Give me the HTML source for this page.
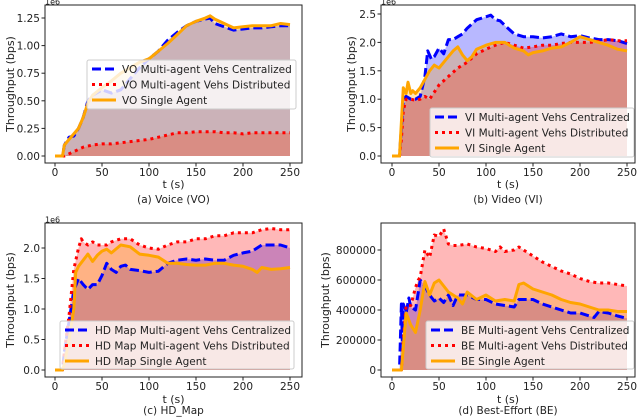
<!DOCTYPE html>
<html><head><meta charset="utf-8"><style>
body{margin:0;background:#fff;}
svg{display:block;font-family:"DejaVu Sans","Liberation Sans",sans-serif;}
</style></head><body>
<svg id="fig" width="640" height="420" viewBox="0 0 640 420"></svg>
<script>
// ---- Panel (a) Voice, units 1e6 ----
const voCenT=[0,5,8,10,15,20,25,30,35,40,50,60,70,80,90,100,110,120,130,140,150,160,165,170,180,190,200,210,220,230,240,250];
const voCenV=[0,0,0,0.1,0.17,0.18,0.25,0.35,0.5,0.55,0.6,0.57,0.6,0.7,0.8,0.88,0.95,1.05,1.12,1.18,1.22,1.24,1.25,1.2,1.17,1.14,1.15,1.16,1.16,1.17,1.18,1.18];
const voDisT=[0,8,10,20,30,40,50,60,70,80,90,100,110,120,130,140,150,160,170,180,190,200,210,220,230,240,250];
const voDisV=[0,0,0,0.04,0.08,0.1,0.11,0.11,0.12,0.13,0.14,0.15,0.17,0.19,0.21,0.21,0.22,0.22,0.22,0.21,0.21,0.2,0.21,0.21,0.21,0.21,0.21];
const voSinT=[0,5,8,10,15,20,25,30,35,40,50,60,70,80,90,100,110,120,130,140,150,160,165,170,180,190,200,210,220,230,240,250];
const voSinV=[0,0,0,0.1,0.15,0.2,0.25,0.35,0.48,0.55,0.62,0.68,0.75,0.8,0.85,0.88,0.95,1.02,1.1,1.18,1.22,1.25,1.27,1.24,1.2,1.16,1.17,1.18,1.18,1.18,1.2,1.19];
// ---- Panel (b) Video, units 1e6 ----
const viCenT=[0,8,10,12,15,20,25,30,35,38,42,45,50,55,60,65,70,75,80,90,100,105,110,115,120,130,140,150,160,170,180,190,200,210,220,230,240,250];
const viCenV=[0,0,0.5,1.0,1.05,1.0,1.0,1.05,1.4,1.85,1.7,1.75,1.9,1.8,2.05,2.05,2.1,2.15,2.25,2.4,2.45,2.48,2.4,2.38,2.3,2.15,2.1,2.1,2.08,2.1,2.15,2.1,2.12,2.08,2.05,2.05,2.03,1.98];
const viDisT=[0,8,10,12,15,20,25,30,35,40,50,60,70,80,90,100,110,120,130,140,150,160,170,180,190,200,210,220,230,240,250];
const viDisV=[0,0,0.3,0.8,1.0,1.0,0.98,1.0,1.05,1.0,1.25,1.4,1.55,1.65,1.8,1.88,1.95,2.0,1.95,1.9,1.92,1.95,1.95,1.98,2.0,2.0,2.0,2.02,2.05,2.03,2.03];
const viSinT=[0,8,10,12,15,17,20,22,25,30,35,40,45,50,55,60,65,70,75,80,85,90,100,110,120,130,140,145,150,160,170,180,190,200,210,220,230,240,250];
const viSinV=[0,0,0.6,1.2,1.1,1.3,1.1,1.15,1.1,1.2,1.35,1.5,1.6,1.55,1.65,1.75,1.85,1.92,1.78,1.68,1.75,1.88,1.95,2.0,2.0,1.9,1.85,1.78,1.82,1.85,1.9,1.92,2.0,2.1,2.05,2.0,1.95,1.88,1.85];
// ---- Panel (c) HD Map, units 1e6 ----
const hdCenT=[0,8,10,15,20,25,30,35,40,45,50,55,60,65,70,75,80,90,100,110,120,130,140,150,160,170,180,190,200,210,220,230,240,250];
const hdCenV=[0,0,0.3,0.8,1.3,1.5,1.4,1.32,1.4,1.4,1.55,1.75,1.65,1.6,1.7,1.72,1.65,1.63,1.6,1.62,1.75,1.8,1.82,1.8,1.82,1.8,1.8,1.88,1.92,1.95,2.05,2.05,2.05,2.0];
const hdDisT=[0,8,10,15,20,25,28,30,35,40,45,50,55,60,70,80,90,100,110,120,130,140,150,160,170,180,190,200,210,220,230,240,250];
const hdDisV=[0,0,0.3,0.9,1.65,2.0,2.15,2.1,2.05,2.1,2.05,2.05,2.05,2.1,2.15,2.15,2.05,2.0,1.98,2.05,2.1,2.1,2.15,2.15,2.2,2.2,2.25,2.25,2.25,2.3,2.32,2.3,2.3];
const hdSinT=[0,8,10,15,20,22,25,30,35,40,45,50,55,60,70,80,90,100,110,120,130,140,150,160,170,180,190,200,210,215,220,230,240,250];
const hdSinV=[0,0,0.1,0.5,1.0,1.6,1.7,1.8,1.9,1.78,1.88,1.95,1.98,1.92,2.05,2.02,1.9,1.88,1.85,1.75,1.75,1.73,1.72,1.72,1.75,1.75,1.72,1.7,1.65,1.6,1.68,1.65,1.66,1.68];
// ---- Panel (d) Best-Effort, bps ----
const beCenT=[0,8,10,11,12,15,18,20,25,30,35,40,45,50,55,60,65,70,80,90,100,110,120,130,135,140,150,160,170,180,190,200,210,215,220,230,240,250];
const beCenV=[0,0,440000,200000,440000,380000,480000,420000,400000,600000,560000,500000,460000,480000,450000,500000,430000,500000,500000,470000,470000,440000,430000,420000,470000,470000,470000,440000,420000,400000,380000,380000,360000,350000,390000,380000,360000,345000];
const beDisT=[0,8,10,12,15,20,25,28,30,35,40,45,50,55,60,65,70,80,90,100,110,115,120,130,135,140,150,160,170,180,190,200,210,220,230,240,250];
const beDisV=[0,0,0,200000,430000,430000,550000,600000,620000,800000,750000,900000,890000,940000,840000,830000,830000,840000,820000,810000,790000,820000,790000,800000,820000,800000,760000,720000,690000,660000,640000,610000,590000,580000,580000,570000,560000];
const beSinT=[0,8,10,12,15,20,25,30,35,40,45,50,60,70,75,80,90,100,110,120,130,135,140,150,160,170,180,190,200,210,220,230,240,250];
const beSinV=[0,0,0,150000,380000,300000,250000,400000,590000,500000,580000,600000,520000,480000,440000,520000,470000,500000,460000,470000,460000,570000,580000,540000,520000,500000,470000,450000,440000,420000,400000,400000,390000,390000];

const xTicks=[0,50,100,150,200,250];
const voYTicks=[0,0.25,0.5,0.75,1.0,1.25], voYLabels=["0.00","0.25","0.50","0.75","1.00","1.25"];
const viYTicks=[0,0.5,1.0,1.5,2.0,2.5], viYLabels=["0.0","0.5","1.0","1.5","2.0","2.5"];
const hdYTicks=[0,0.5,1.0,1.5,2.0], hdYLabels=["0.0","0.5","1.0","1.5","2.0"];
const beYTicks=[0,200000,400000,600000,800000], beYLabels=["0","200000","400000","600000","800000"];

const NS="http://www.w3.org/2000/svg";
const fig=document.getElementById('fig');
function mk(tag,attrs,parent){const e=document.createElementNS(NS,tag);for(const k in attrs)e.setAttribute(k,attrs[k]);(parent||fig).appendChild(e);return e;}

const panels=[
 {id:'vo',pre:'VO',cap:'(a) Voice (VO)',box:[45,5,302,163],x0:55,x1:290,y0:156,yTop:18,yTopVal:1.25,yt:voYTicks,yl:voYLabels,exp:true,ylx:14,
  c:[voCenT,voCenV],d:[voDisT,voDisV],s:[voSinT,voSinV],leg:[87,60,296,109],xl:188,capY:203},
 {id:'vi',pre:'VI',cap:'(b) Video (VI)',box:[381,5,635,163],x0:392,x1:627,y0:156,yTop:14,yTopVal:2.5,yt:viYTicks,yl:viYLabels,exp:true,ylx:355,
  c:[viCenT,viCenV],d:[viDisT,viDisV],s:[viSinT,viSinV],leg:[430,108,634,157],xl:188,capY:203},
 {id:'hd',pre:'HD Map',cap:'(c) HD_Map',box:[45,223,302,377],x0:55,x1:290,y0:370,yTop:248,yTopVal:2.0,yt:hdYTicks,yl:hdYLabels,exp:true,ylx:14,
  c:[hdCenT,hdCenV],d:[hdDisT,hdDisV],s:[hdSinT,hdSinV],leg:[60,321,294,369],xl:403,capY:414},
 {id:'be',pre:'BE',cap:'(d) Best-Effort (BE)',box:[381,223,635,377],x0:392,x1:627,y0:370,yTop:250,yTopVal:800000,yt:beYTicks,yl:beYLabels,exp:false,ylx:329,
  c:[beCenT,beCenV],d:[beDisT,beDisV],s:[beSinT,beSinV],leg:[426,321,634,369],xl:403,capY:414}
];

panels.forEach(p=>{
 const g=mk('g',{});
 
 
 const X=t=>p.x0+(p.x1-p.x0)*t/250;
 const Y=v=>p.y0-(p.y0-p.yTop)*v/p.yTopVal;
 const [bx0,by0,bx1,by1]=p.box;
 const series=[
  {k:'centralized',d:p.c,col:'#0000ff',dash:'9,4',lab:p.pre+' Multi-agent Vehs Centralized'},
  {k:'distributed',d:p.d,col:'#ff0000',dash:'3,4',lab:p.pre+' Multi-agent Vehs Distributed'},
  {k:'single',d:p.s,col:'#ffa500',dash:'',lab:p.pre+' Single Agent'}];
 series.forEach(s=>{
  const [T,V]=s.d;
  let path='M'+X(T[0])+','+Y(0);
  T.forEach((t,i)=>{path+='L'+X(t).toFixed(1)+','+Y(V[i]).toFixed(1);});
  path+='L'+X(T[T.length-1])+','+Y(0)+'Z';
  const f=mk('path',{d:path,fill:s.col,'fill-opacity':0.28,stroke:'none'},g);
  
  
 });
 series.forEach(s=>{
  const [T,V]=s.d;
  const pts=T.map((t,i)=>X(t).toFixed(1)+','+Y(V[i]).toFixed(1)).join(' ');
  const l=mk('polyline',{points:pts,fill:'none',stroke:s.col,'stroke-width':3,'stroke-dasharray':s.dash,'stroke-linejoin':'round'},g);
  
  
 });
 const fr=mk('rect',{x:bx0,y:by0,width:bx1-bx0,height:by1-by0,fill:'none',stroke:'#222','stroke-width':1},g);
 
 
 xTicks.forEach(t=>{
  mk('line',{x1:X(t),x2:X(t),y1:by1,y2:by1+3.5,stroke:'#222'},g);
  const tx=mk('text',{x:X(t),y:by1+13,'font-size':10.5,'text-anchor':'middle',fill:'#222'},g);
  tx.textContent=t;
  
  
 });
 p.yt.forEach((v,i)=>{
  mk('line',{x1:bx0-3.5,x2:bx0,y1:Y(v),y2:Y(v),stroke:'#222'},g);
  const tx=mk('text',{x:bx0-5,y:Y(v)+4,'font-size':10.5,'text-anchor':'end',fill:'#222'},g);
  tx.textContent=p.yl[i];
  
  
 });
 if(p.exp){const e=mk('text',{x:bx0,y:by0-0.5,'font-size':8,fill:'#222'},g);e.textContent='1e6';
  
  }
 const xl=mk('text',{x:(bx0+bx1)/2,y:p.xl,'font-size':11,'text-anchor':'middle',fill:'#222'},g);xl.textContent='t (s)';
 
 
 const cy=(by0+by1)/2;
 const yl=mk('text',{x:p.ylx,y:cy,'font-size':11,'text-anchor':'middle',fill:'#222',transform:'rotate(-90 '+p.ylx+' '+cy+')'},g);yl.textContent='Throughput (bps)';
 
 
 const cp=mk('text',{x:(bx0+bx1)/2,y:p.capY,'font-size':10.5,'text-anchor':'middle',fill:'#222'},g);cp.textContent=p.cap;
 
 
 const [lx0,ly0,lx1,ly1]=p.leg;
 const lg=mk('g',{},g);
 
 
 mk('rect',{x:lx0,y:ly0,width:lx1-lx0,height:ly1-ly0,rx:2,fill:'#fff','fill-opacity':0.8,stroke:'#ccc'},lg);
 series.forEach((s,i)=>{
  const yy=ly0+9+i*15.5;
  mk('line',{x1:lx0+5,x2:lx0+29,y1:yy,y2:yy,stroke:s.col,'stroke-width':3,'stroke-dasharray':s.dash},lg);
  const t=mk('text',{x:lx0+35,y:yy+4,'font-size':10.5,fill:'#222'},lg);t.textContent=s.lab;
  
  
 });
});
</script>
</body></html>
